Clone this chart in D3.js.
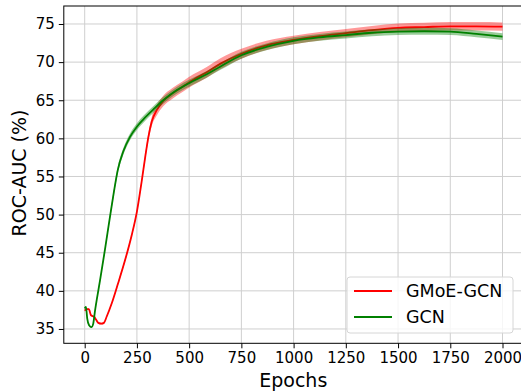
<!DOCTYPE html>
<html>
<head>
<meta charset="utf-8">
<script src="https://cdn.jsdelivr.net/npm/d3@7"></script>
<style>
  body { margin: 0; background: #fff; }
  text { font-family: "DejaVu Sans", sans-serif; }
</style>
</head>
<body>
<div id="chart"></div>
<script>
// values
const gmoeEpochs = [0, 10, 20, 30, 45, 55, 65, 80, 92, 105, 130, 160, 193, 225, 250, 273, 290, 305, 321, 345, 376, 420, 470, 520, 580, 650, 750, 870, 1000, 1125, 1250, 1375, 1500, 1625, 1750, 1875, 2000];
const gmoeMean = [37.4, 37.6, 37.6, 36.8, 36.6, 36.2, 35.8, 35.7, 35.8, 36.6, 38.4, 41.0, 44.0, 47.3, 50.4, 54.4, 57.6, 60.2, 62.2, 63.7, 64.9, 65.9, 66.8, 67.7, 68.6, 69.8, 71.1, 72.2, 72.9, 73.4, 73.8, 74.2, 74.5, 74.6, 74.7, 74.7, 74.65];
const gmoeStd = [0.1, 0.1, 0.1, 0.1, 0.1, 0.1, 0.1, 0.1, 0.1, 0.1, 0.15, 0.15, 0.2, 0.2, 0.25, 0.3, 0.4, 0.5, 0.6, 0.7, 0.7, 0.7, 0.7, 0.7, 0.7, 0.7, 0.65, 0.6, 0.55, 0.55, 0.55, 0.55, 0.55, 0.55, 0.55, 0.55, 0.55];

const gcnEpochs = [0, 6, 12, 21, 33, 41, 49, 73, 97, 121, 140, 158, 185, 217, 249, 281, 329, 376, 440, 504, 584, 648, 750, 870, 1000, 1125, 1250, 1375, 1500, 1625, 1750, 1875, 2000];
const gcnMean = [37.7, 37.9, 36.4, 35.5, 35.25, 35.7, 37.3, 41.3, 45.4, 49.7, 53.0, 55.8, 58.3, 60.2, 61.5, 62.5, 63.8, 65.0, 66.3, 67.3, 68.4, 69.4, 70.9, 72.0, 72.8, 73.25, 73.55, 73.85, 74.0, 74.05, 74.0, 73.7, 73.35];
const gcnStd = [0.1, 0.1, 0.1, 0.1, 0.1, 0.1, 0.15, 0.2, 0.25, 0.3, 0.35, 0.45, 0.45, 0.45, 0.45, 0.45, 0.45, 0.45, 0.45, 0.45, 0.45, 0.45, 0.45, 0.45, 0.45, 0.45, 0.45, 0.45, 0.45, 0.45, 0.45, 0.45, 0.45];

const xTicks = [0, 250, 500, 750, 1000, 1250, 1500, 1750, 2000];
const yTicks = [35, 40, 45, 50, 55, 60, 65, 70, 75];

const W = 521, H = 392;
const plot = { left: 63.8, right: 523.4, top: 6, bottom: 343.3 };

const svg = d3.select('#chart').append('svg')
  .attr('width', W)
  .attr('height', H);

const x = d3.scaleLinear().domain([-100, 2100]).range([plot.left, plot.right]);
const y = d3.scaleLinear().domain([33.12, 77.36]).range([plot.bottom, plot.top]);

// grid
svg.append('g').selectAll('line').data(xTicks).enter().append('line')
  .attr('x1', d => x(d)).attr('x2', d => x(d))
  .attr('y1', plot.top).attr('y2', plot.bottom)
  .attr('stroke', '#cfcfcf').attr('stroke-width', 1);
svg.append('g').selectAll('line').data(yTicks).enter().append('line')
  .attr('x1', plot.left).attr('x2', plot.right)
  .attr('y1', d => y(d)).attr('y2', d => y(d))
  .attr('stroke', '#cfcfcf').attr('stroke-width', 1);

function toRows(epochs, mean, std) {
  return epochs.map((e, i) => ({ e: e, m: mean[i], s: std[i] }));
}
const series = [
  { name: 'GMoE-GCN', color: '#ff0000', rows: toRows(gmoeEpochs, gmoeMean, gmoeStd) },
  { name: 'GCN', color: '#008000', rows: toRows(gcnEpochs, gcnMean, gcnStd) }
];

const area = d3.area()
  .x(d => x(d.e))
  .y0(d => y(d.m - d.s))
  .y1(d => y(d.m + d.s))
  .curve(d3.curveMonotoneX);
const line = d3.line()
  .x(d => x(d.e))
  .y(d => y(d.m))
  .curve(d3.curveMonotoneX);

series.forEach(s => {
  svg.append('path').datum(s.rows)
    .attr('d', area)
    .attr('fill', s.color)
    .attr('fill-opacity', 0.4);
  svg.append('path').datum(s.rows)
    .attr('d', line)
    .attr('fill', 'none')
    .attr('stroke', s.color)
    .attr('stroke-width', 1.8);
});

// axes
const xAxis = svg.append('g')
  .attr('transform', `translate(0,${plot.bottom})`)
  .call(d3.axisBottom(x).tickValues(xTicks).tickFormat(d3.format('d')).tickSize(5).tickPadding(4));
const yAxis = svg.append('g')
  .attr('transform', `translate(${plot.left},0)`)
  .call(d3.axisLeft(y).tickValues(yTicks).tickFormat(d3.format('d')).tickSize(5).tickPadding(4));
[xAxis, yAxis].forEach(a => {
  a.select('.domain').remove();
  a.selectAll('text').attr('font-size', 15).attr('fill', '#000')
    .attr('font-family', 'DejaVu Sans, sans-serif');
  a.selectAll('line').attr('stroke', '#000');
});

// spines
svg.append('rect')
  .attr('x', plot.left).attr('y', plot.top)
  .attr('width', plot.right - plot.left).attr('height', plot.bottom - plot.top)
  .attr('fill', 'none').attr('stroke', '#000').attr('stroke-width', 1);

// axis titles
svg.append('text')
  .attr('x', (plot.left + 502.7) / 2 + 10).attr('y', 387)
  .attr('text-anchor', 'middle')
  .attr('font-size', 19)
  .text('Epochs');
svg.append('text')
  .attr('transform', 'translate(26,173) rotate(-90)')
  .attr('text-anchor', 'middle')
  .attr('font-size', 19)
  .text('ROC-AUC (%)');

// legend
const lg = svg.append('g').attr('transform', 'translate(347,277)');
lg.append('rect')
  .attr('width', 166).attr('height', 56)
  .attr('rx', 3)
  .attr('fill', '#fff').attr('fill-opacity', 0.8)
  .attr('stroke', '#d6d6d6');
series.forEach((s, i) => {
  const yy = 14 + i * 26;
  lg.append('line')
    .attr('x1', 7).attr('x2', 45).attr('y1', yy).attr('y2', yy)
    .attr('stroke', s.color).attr('stroke-width', 1.8);
  lg.append('text')
    .attr('x', 59).attr('y', yy + 6)
    .attr('font-size', 17.5)
    .text(s.name);
});
</script>
</body>
</html>
